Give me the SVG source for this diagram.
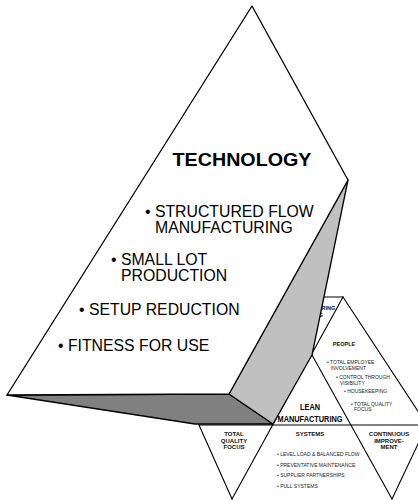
<svg xmlns="http://www.w3.org/2000/svg" width="418" height="500" viewBox="0 0 418 500">
<style>
  .ln { stroke:#000; stroke-width:1.1; fill:none; stroke-linecap:round; stroke-linejoin:round; }
  .edge { stroke:#000; stroke-width:1.3; stroke-linejoin:round; }
  .big { font-family:"Liberation Sans", Arial, sans-serif; font-size:15.8px; fill:#000; }
  .title { font-family:"Liberation Sans", Arial, sans-serif; font-size:18.5px; font-weight:bold; fill:#000; }
  .hd { font-family:"Liberation Sans", Arial, sans-serif; font-size:6px; font-weight:bold; fill:#111; text-anchor:middle; }
  .sm { font-family:"Liberation Sans", Arial, sans-serif; font-size:5px; fill:#222; }
  .lean { font-family:"Liberation Sans", Arial, sans-serif; font-size:9.3px; font-weight:bold; fill:#000; text-anchor:middle; }
</style>
<rect width="418" height="500" fill="#fff"/>

<!-- small lean manufacturing figure -->
<g id="lean-figure">
  <g id="lines">
    <line class="ln" x1="199" y1="425" x2="418" y2="425"/>
    <line class="ln" x1="199" y1="425" x2="232" y2="499"/>
    <line class="ln" x1="232" y1="499" x2="343" y2="297"/>
    <line class="ln" x1="312" y1="355" x2="392" y2="499"/>
    <line class="ln" x1="343" y1="297" x2="427" y2="425"/>
    <line class="ln" x1="427" y1="425" x2="392" y2="499"/>
    <line class="ln" x1="318" y1="297" x2="343" y2="297"/>
  </g>
  <g id="hidden-node">
    <text class="hd" x="321.5" y="310" style="text-anchor:start;font-size:5.5px">RING</text>
    <text class="hd" x="319" y="316.5" style="text-anchor:start;font-size:5.5px">S</text>
  </g>
  <g id="people">
    <text class="hd" x="344" y="346" style="font-size:5.5px">PEOPLE</text>
    <text class="sm" x="327" y="364">• TOTAL EMPLOYEE</text>
    <text class="sm" x="330.5" y="370">INVOLVEMENT</text>
    <text class="sm" x="336" y="379">• CONTROL THROUGH</text>
    <text class="sm" x="340" y="384.5">VISIBILITY</text>
    <text class="sm" x="344" y="393">• HOUSEKEEPING</text>
    <text class="sm" x="351" y="406">• TOTAL QUALITY</text>
    <text class="sm" x="354" y="411">FOCUS</text>
  </g>
  <g id="lean">
    <text class="lean" x="310" y="410" textLength="20" lengthAdjust="spacingAndGlyphs">LEAN</text>
    <text class="lean" x="310" y="422" textLength="65" lengthAdjust="spacingAndGlyphs">MANUFACTURING</text>
  </g>
  <g id="total-quality-focus">
    <text class="hd" x="234" y="436">TOTAL</text>
    <text class="hd" x="234" y="442.5">QUALITY</text>
    <text class="hd" x="234" y="449">FOCUS</text>
  </g>
  <g id="systems">
    <text class="hd" x="310" y="436">SYSTEMS</text>
    <text class="sm" x="277" y="456">• LEVEL LOAD &amp; BALANCED FLOW</text>
    <text class="sm" x="277" y="467">• PREVENTATIVE MAINTENANCE</text>
    <text class="sm" x="277" y="477">• SUPPLIER PARTNERSHIPS</text>
    <text class="sm" x="277" y="488">• PULL SYSTEMS</text>
  </g>
  <g id="continuous-improvement">
    <text class="hd" x="389" y="436">CONTINUOUS</text>
    <text class="hd" x="389" y="442.5">IMPROVE-</text>
    <text class="hd" x="389" y="449">MENT</text>
  </g>
</g>

<!-- large technology pyramid -->
<g id="technology">
  <polygon class="edge" fill="#808080" points="7,395 229,394 273,424 195,424"/>
  <polygon class="edge" fill="#c0c0c0" points="348,180 229,394 273,424 312,355"/>
  <polygon class="edge" fill="#ffffff" points="252,6 348,180 229,394 7,395"/>
  <text class="title" x="172.5" y="166" textLength="139" lengthAdjust="spacingAndGlyphs">TECHNOLOGY</text>
  <text class="big" x="145" y="217">• STRUCTURED FLOW</text>
  <text class="big" x="155" y="233">MANUFACTURING</text>
  <text class="big" x="111" y="265">• SMALL LOT</text>
  <text class="big" x="121" y="281">PRODUCTION</text>
  <text class="big" x="79" y="315">• SETUP REDUCTION</text>
  <text class="big" x="58" y="351">• FITNESS FOR USE</text>
</g>
</svg>
